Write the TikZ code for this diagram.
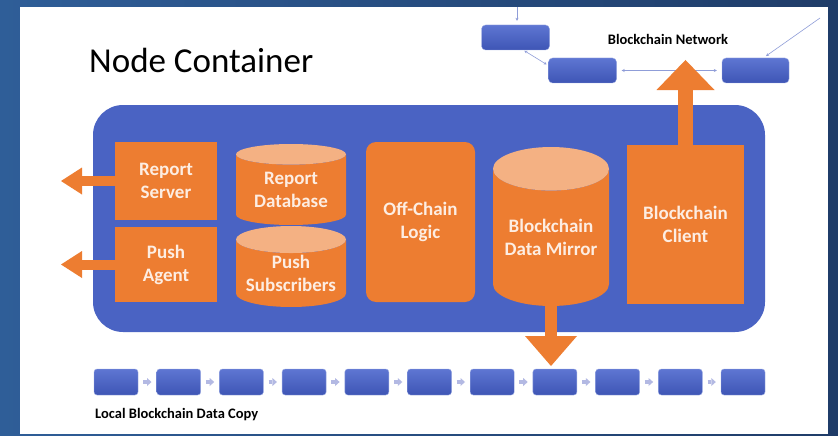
\documentclass[tikz,border=0pt]{standalone}
\usepackage{fontspec}
\setmainfont{Carlito}
\usetikzlibrary{shapes.geometric,arrows.meta}

\definecolor{slideblue}{HTML}{2F5E98}
\definecolor{slidedark}{HTML}{1F3C68}
\definecolor{boxblue}{HTML}{4A63C3}
\definecolor{boxlight}{HTML}{5E76D2}
\definecolor{boxdark}{HTML}{3E55B5}
\definecolor{partorange}{HTML}{ED7D31}
\definecolor{parttop}{HTML}{F4B183}
\definecolor{partlabel}{HTML}{FDEDE2}
\definecolor{linklilac}{HTML}{8F9DD8}
\definecolor{chainlilac}{HTML}{B3B9E3}

\tikzset{
  parttext/.style={text=partlabel, font=\fontsize{19}{23}\selectfont\bfseries, align=center, inner sep=0pt},
  part/.style={parttext, fill=partorange},
  store/.style={parttext, shape=cylinder, shape border rotate=90, anchor=shape center,
    cylinder uses custom fill, cylinder body fill=partorange, cylinder end fill=parttop},
  block/.style={rounded corners=3pt, top color=boxlight, bottom color=boxdark, draw=boxlight!60, line width=0.4pt,
    minimum width=44pt, minimum height=26pt, inner sep=0pt},
  netblock/.style={block, rounded corners=4pt, minimum width=68pt, minimum height=25pt},
  link/.style={draw=linklilac, line width=0.6pt, {Stealth[length=3pt,width=3pt]}-{Stealth[length=3pt,width=3pt]}},
  chainlink/.style={draw=chainlilac, line width=4pt, shorten <=5pt, shorten >=5pt,
    -{Triangle[width=8pt,length=4.5pt,line width=0pt]}},
  smallout/.style={draw=partorange, line width=10pt, -{Triangle[width=27pt,length=21pt,line width=0pt]}},
  bigout/.style={draw=partorange, line width=#1, -{Triangle[width=52pt,length=30pt,line width=0pt]}},
  caption/.style={font=\fontsize{14.5}{17}\selectfont\bfseries, inner sep=0pt}
}

\begin{document}
\begin{tikzpicture}[x=1pt, y=-1pt]

\useasboundingbox (0,0) rectangle (838,436);
\shade[left color=slideblue, right color=slidedark] (0,0) rectangle (838,436);
\fill[white] (20,7) rectangle (828,434);

\node[anchor=base west, inner sep=0pt, font=\fontsize{35}{42}\selectfont] (title) at (89,73) {Node Container};

%% blockchain network
\node[netblock] (net1) at (515.5,37.5) {};
\node[netblock] (net2) at (582.5,70.5) {};
\node[netblock, minimum width=67pt] (net3) at (755.5,70.5) {};
\node[caption] (netlabel) at (668,39) {Blockchain Network};

\coordinate (feedtop) at (517,7);
\coordinate (feedright) at (820,18);
\draw[draw=linklilac, line width=0.6pt, -{Stealth[length=3pt,width=3pt]}, shorten >=4pt] (feedtop) -- (feedtop |- net1.north);
\draw[link, shorten <=1pt, shorten >=2pt] ([xshift=8pt]net1.south) -- ([yshift=5pt]net2.west);
\draw[link, shorten <=5pt, shorten >=5pt] (net2.east) -- (net3.west);
\draw[draw=linklilac, line width=0.6pt, -{Stealth[length=3pt,width=3pt]}, shorten >=3pt] (feedright) -- ([xshift=8pt]net3.north);

%% node container
\node[fill=boxblue, rounded corners=30pt, minimum width=672pt, minimum height=227pt] (container) at (429,218.5) {};

\node[part, minimum width=102pt, minimum height=78pt] (server) at (166,181) {Report\\Server};
\node[part, minimum width=102pt, minimum height=75pt] (agent) at (166,264.5) {Push\\Agent};
\node[store, aspect=0.28, minimum width=110pt, minimum height=81pt] (reportdb) at (291,184.5) {Report\\Database};
\node[store, aspect=0.3, minimum width=110pt, minimum height=81pt] (subscribers) at (291,266.5) {Push\\Subscribers};
\node[part, rounded corners=10pt, minimum width=109pt, minimum height=160pt] (logic) at (420.5,222) {Off-Chain\\Logic};
\node[store, aspect=0.47, minimum width=116pt, minimum height=159pt] (mirror) at (551,226.5) {Blockchain\\Data Mirror};
\node[part, minimum width=117pt, minimum height=159pt] (client) at (685.5,224.5) {Blockchain\\Client};

\coordinate (serverout) at (61,181);
\coordinate (agentout) at (61,264.5);
\draw[smallout] (server.west) -- (serverout);
\draw[smallout] (agent.west) -- (agentout);

%% local copy
\node[block] (copy1) at (116,382) {};
\node[block] (copy2) at (178.7,382) {};
\node[block] (copy3) at (241.4,382) {};
\node[block] (copy4) at (304.1,382) {};
\node[block] (copy5) at (366.8,382) {};
\node[block] (copy6) at (429.5,382) {};
\node[block] (copy7) at (492.2,382) {};
\node[block] (copy8) at (554.9,382) {};
\node[block] (copy9) at (617.6,382) {};
\node[block] (copy10) at (680.3,382) {};
\node[block] (copy11) at (743,382) {};

\draw[chainlink] (copy1) -- (copy2);
\draw[chainlink] (copy2) -- (copy3);
\draw[chainlink] (copy3) -- (copy4);
\draw[chainlink] (copy4) -- (copy5);
\draw[chainlink] (copy5) -- (copy6);
\draw[chainlink] (copy6) -- (copy7);
\draw[chainlink] (copy7) -- (copy8);
\draw[chainlink] (copy8) -- (copy9);
\draw[chainlink] (copy9) -- (copy10);
\draw[chainlink] (copy10) -- (copy11);

\node[caption, anchor=west] (copylabel) at (95,415) {Local Blockchain Data Copy};

%% big arrows
\coordinate (mirrorout) at (551,366);
\coordinate (clientout) at (685.5,60);
\draw[bigout=12pt] (mirror.south) -- (mirrorout);
\draw[bigout=15pt, -{Triangle[width=58pt,length=30pt,line width=0pt]}] (client.north) -- (clientout);

\end{tikzpicture}
\end{document}
